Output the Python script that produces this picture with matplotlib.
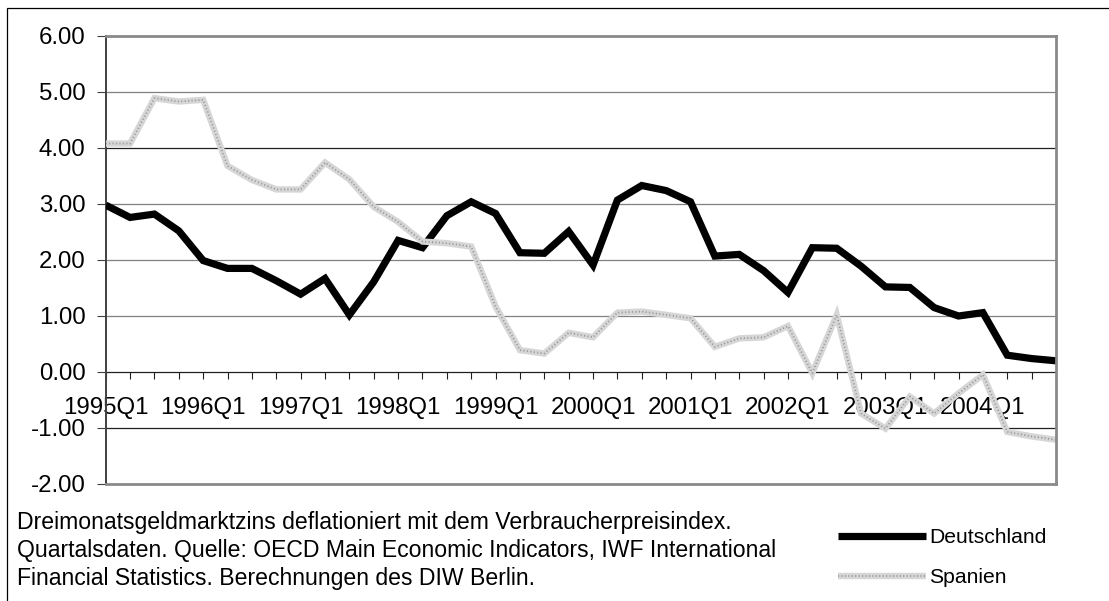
import matplotlib
matplotlib.use("Agg")
import matplotlib.pyplot as plt
from matplotlib.patches import Rectangle
from matplotlib.legend_handler import HandlerTuple

plt.rcParams['font.family'] = ['Liberation Sans', 'DejaVu Sans']

# quarterly data 1995Q1 .. 2004Q4
quarters = [f"{y}Q{q}" for y in range(1995, 2005) for q in range(1, 5)]
deutschland = [2.98, 2.76, 2.82, 2.52, 1.99, 1.85, 1.85, 1.63, 1.39, 1.67,
               1.02, 1.61, 2.35, 2.22, 2.79, 3.04, 2.83, 2.13, 2.12, 2.51,
               1.91, 3.07, 3.33, 3.24, 3.04, 2.07, 2.10, 1.81, 1.42, 2.22,
               2.21, 1.89, 1.52, 1.51, 1.15, 1.00, 1.06, 0.30, 0.24, 0.20]
spanien = [4.08, 4.08, 4.89, 4.83, 4.86, 3.68, 3.43, 3.26, 3.26, 3.74,
           3.44, 2.95, 2.68, 2.33, 2.30, 2.24, 1.17, 0.39, 0.33, 0.70,
           0.62, 1.06, 1.08, 1.02, 0.96, 0.45, 0.60, 0.62, 0.82, -0.02,
           1.02, -0.74, -1.01, -0.44, -0.74, -0.38, -0.05, -1.07, -1.15, -1.21]
yticks = [-2, -1, 0, 1, 2, 3, 4, 5, 6]
note_lines = [
    "Dreimonatsgeldmarktzins deflationiert mit dem Verbraucherpreisindex.",
    "Quartalsdaten. Quelle: OECD Main Economic Indicators, IWF International",
    "Financial Statistics. Berechnungen des DIW Berlin.",
]

W, H = 1109, 601
fig = plt.figure(figsize=(W / 100, H / 100), dpi=100)
ax = fig.add_axes([105.7 / W, 1 - 484 / H, (1056 - 105.7) / W, (484 - 36) / H])

x = list(range(len(quarters)))

# gridlines
for v in yticks:
    if v in (0, -2, 6):
        continue
    c = '#202020' if v in (4, -1) else '#808080'
    ax.axhline(v, color=c, lw=0.9, zorder=1)

l_de, = ax.plot(x, deutschland, color='black', lw=5.2, zorder=3,
                solid_joinstyle='miter', solid_capstyle='butt')
l_es1, = ax.plot(x, spanien, color='#d6d6d6', lw=4.6, zorder=4,
                 solid_joinstyle='miter', solid_capstyle='butt')
l_es2, = ax.plot(x, spanien, color='#969696', lw=1.3, zorder=5,
                 linestyle=(0, (0.6, 1.3)))

ax.set_xlim(0, len(quarters) - 1)
ax.set_ylim(-2, 6)
ax.set_yticks(yticks)
ax.set_yticklabels([f"{v:.2f}" for v in yticks])
ax.set_xticks(x)
ax.set_xticklabels([q if i % 4 == 0 else '' for i, q in enumerate(quarters)])

ax.spines['bottom'].set_position(('data', 0))
ax.spines['bottom'].set_color('#202020')
ax.spines['bottom'].set_linewidth(0.9)
ax.spines['left'].set_color('#404040')
ax.spines['left'].set_linewidth(1.4)
ax.spines['bottom'].set_zorder(2)
for s in ('top', 'right'):
    ax.spines[s].set_visible(False)
# grey frame top/right/bottom
ax.axhline(6, color='#8a8a8a', lw=2.0, zorder=6, clip_on=False)
ax.axhline(-2, color='#8a8a8a', lw=2.0, zorder=6, clip_on=False)
ax.axvline(len(quarters) - 1, color='#8a8a8a', lw=2.0, zorder=6, clip_on=False)

ax.tick_params(axis='x', direction='out', length=5, width=0.8, color='#202020',
               pad=13, labelsize=17.3)
ax.tick_params(axis='y', direction='out', length=6.5, width=0.8, color='#404040',
               pad=8, labelsize=17.3)

# notes below the chart
for i, line in enumerate(note_lines):
    fig.text(17 / W, 1 - (523 + 27.5 * i) / H, line, fontsize=16.6,
             va='center', ha='left')

fig.legend([(l_de,), (l_es1, l_es2)], ['Deutschland', 'Spanien'],
           handler_map={tuple: HandlerTuple(ndivide=1)},
           loc='center left', bbox_to_anchor=(827 / W, 1 - 557.5 / H),
           frameon=False, fontsize=15.2, handlelength=4.2, handletextpad=0.15,
           labelspacing=1.0, borderpad=0)

# outer frame
fig.patches.append(Rectangle((7 / W, -0.1), 1.2, 1 - 8 / H + 0.1,
                             transform=fig.transFigure, fill=False,
                             edgecolor='black', lw=0.9))

fig.savefig('out.png', dpi=100)
